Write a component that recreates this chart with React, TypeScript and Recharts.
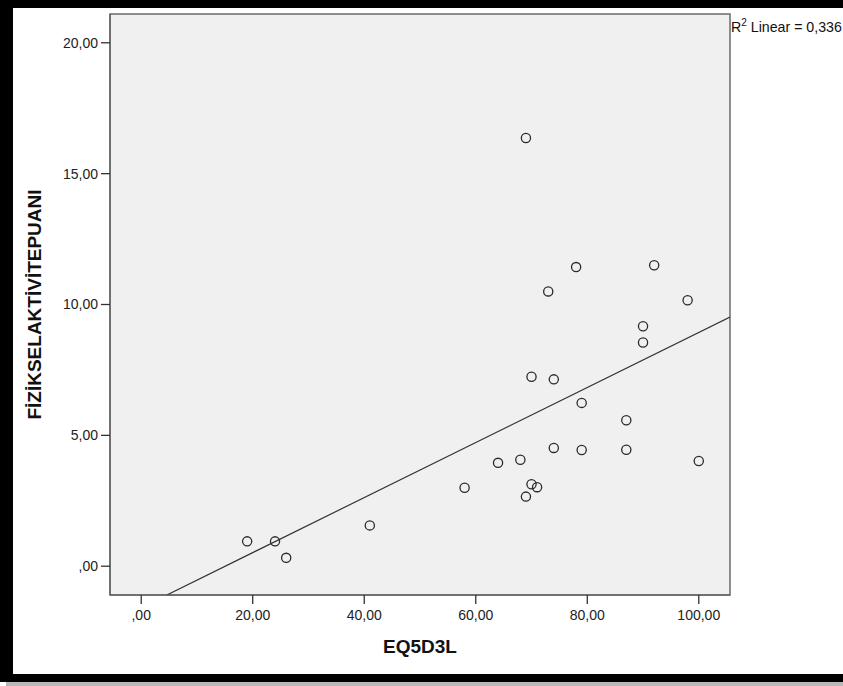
import React from 'react';
import { ScatterChart, Scatter, XAxis, YAxis, CartesianGrid, ReferenceLine, ReferenceArea } from 'recharts';

// EQ5D3L (x) values
const eq5d3l = [19, 24, 26, 41, 58, 64, 68, 69, 70, 71, 74, 79, 87, 87, 100, 79, 70, 74, 90, 90, 73, 98, 78, 92, 69];
// FİZİKSELAKTİVİTEPUANI (y) values
const fizikselPuan = [0.95, 0.95, 0.32, 1.56, 3.0, 3.95, 4.07, 2.66, 3.13, 3.02, 4.52, 4.44, 4.45, 5.58, 4.02, 6.24, 7.24, 7.14, 8.55, 9.17, 10.5, 10.16, 11.43, 11.5, 16.36];

const xTicks = [0, 20, 40, 60, 80, 100];
const xTickLabels = [',00', '20,00', '40,00', '60,00', '80,00', '100,00'];
const yTicks = [0, 5, 10, 15, 20];
const yTickLabels = [',00', '5,00', '10,00', '15,00', '20,00'];

const xDomain = [-5.6, 105.6];
const yDomain = [-1.1, 21.1];

// fit line endpoints
const fitStart = { x: 4.6, y: -1.1 };
const fitEnd = { x: 105.6, y: 9.52 };

const xTitle = 'EQ5D3L';
const yTitle = 'FİZİKSELAKTİVİTEPUANI';
const r2Label = 'Linear = 0,336';

const data = eq5d3l.map((x, i) => ({ x, y: fizikselPuan[i] }));

const FONT = '"Liberation Sans", Arial, sans-serif';

const fmtX = (v: number) => xTickLabels[xTicks.indexOf(v)] ?? String(v);
const fmtY = (v: number) => yTickLabels[yTicks.indexOf(v)] ?? String(v);

const CircleShape = (props: any) => (
  <circle cx={props.cx} cy={props.cy} r={4.6} fill="none" stroke="#2a2a2a" strokeWidth={1.3} />
);

const renderYTitle = (props: any) => {
  const vb = props.viewBox || { x: 0, y: 14, width: 110, height: 581 };
  const cx = 34;
  const cy = vb.y + vb.height / 2;
  return (
    <text
      x={cx}
      y={cy}
      transform={`rotate(-90, ${cx}, ${cy})`}
      textAnchor="middle"
      dominantBaseline="central"
      fontFamily={FONT}
      fontWeight="bold"
      fontSize={19}
      fill="#111"
    >
      {yTitle}
    </text>
  );
};

const renderXTitle = (props: any) => {
  const vb = props.viewBox || { x: 110, y: 595, width: 620, height: 91 };
  return (
    <text
      x={vb.x + vb.width / 2}
      y={652.5}
      textAnchor="middle"
      fontFamily={FONT}
      fontWeight="bold"
      fontSize={19}
      fill="#111"
    >
      {xTitle}
    </text>
  );
};

const renderR2 = (props: any) => {
  const vb = props.viewBox || { x: 110, y: 14, width: 620, height: 581 };
  const x0 = vb.x + vb.width + 1;
  return (
    <text x={x0} y={32} fontFamily={FONT} fontSize={14.2} fill="#111">
      R
      <tspan fontSize={10} dy={-6}>2</tspan>
      <tspan dy={6}> {r2Label}</tspan>
    </text>
  );
};

export default function App() {
  return (
    <div style={{ position: 'absolute', left: 0, top: 0, width: 843, height: 686, background: '#fff', overflow: 'hidden' }}>
      <ScatterChart width={843} height={686} margin={{ top: 14, right: 113, bottom: 0, left: 0 }}>
        <CartesianGrid horizontal={false} vertical={false} fill="#f0f0f0" />
        <XAxis
          type="number"
          dataKey="x"
          domain={xDomain}
          allowDataOverflow
          ticks={xTicks}
          tickFormatter={fmtX}
          height={91}
          tickSize={9}
          tickMargin={6}
          interval={0}
          stroke="#555"
          tick={{ fill: '#222', fontSize: 14, fontFamily: FONT }}
          tickLine={{ stroke: '#333', strokeWidth: 1.3 }}
          label={{ content: renderXTitle }}
        />
        <YAxis
          type="number"
          dataKey="y"
          domain={yDomain}
          allowDataOverflow
          ticks={yTicks}
          tickFormatter={fmtY}
          width={110}
          tickSize={9}
          tickMargin={3}
          interval={0}
          stroke="#555"
          tick={{ fill: '#222', fontSize: 14, fontFamily: FONT }}
          tickLine={{ stroke: '#333', strokeWidth: 1.3 }}
          label={{ content: renderYTitle }}
        />
        <ReferenceArea
          x1={xDomain[0]}
          x2={xDomain[1]}
          y1={yDomain[0]}
          y2={yDomain[1]}
          fill="none"
          fillOpacity={0}
          stroke="#6a6a6a"
          strokeWidth={1.5}
          label={{ content: renderR2 }}
        />
        <ReferenceLine
          segment={[fitStart, fitEnd]}
          stroke="#333"
          strokeWidth={1.2}
          ifOverflow="hidden"
        />
        <Scatter data={data} shape={CircleShape} isAnimationActive={false} />
      </ScatterChart>
      {/* picture frame */}
      <div style={{ position: 'absolute', left: 0, top: 0, width: 843, height: 8, background: '#000' }} />
      <div style={{ position: 'absolute', left: 0, top: 0, width: 13, height: 682, background: '#000' }} />
      <div style={{ position: 'absolute', left: 4, top: 674, width: 839, height: 8, background: '#000' }} />
      <div style={{ position: 'absolute', left: 6, top: 682, width: 837, height: 4, background: '#b8b8b8' }} />
    </div>
  );
}
